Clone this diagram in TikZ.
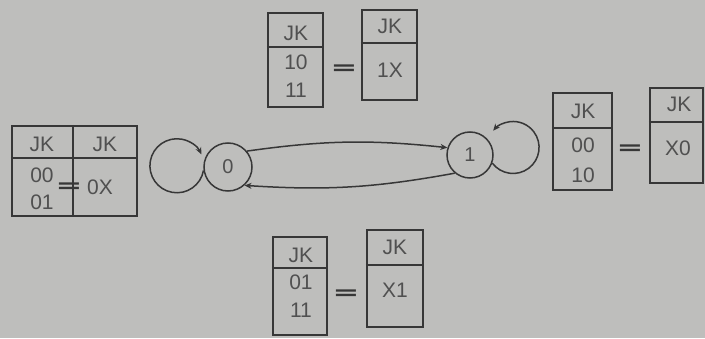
\documentclass[tikz,border=0pt]{standalone}
\usepackage{fontspec}
\setmainfont{Liberation Sans}
\newfontfamily\eqfont{DejaVu Sans}
\usetikzlibrary{arrows.meta}
\definecolor{bg}{RGB}{190,190,188}
\definecolor{ink}{RGB}{55,55,55}
\definecolor{txt}{RGB}{80,80,80}
\tikzset{
  tbox/.style={draw=ink, line width=2.4pt, inner sep=0pt, rectangle},
  hline/.style={draw=ink, line width=1.6pt},
  lbl/.style={text=txt, font=\fontsize{21}{21}\selectfont, inner sep=0pt},
  eq/.style={text=ink, font=\fontsize{20}{20}\eqfont\bfseries, inner sep=0pt},
  state/.style={draw=ink, line width=1.5pt, circle, inner sep=0pt, text=txt, font=\fontsize{20}{20}\selectfont},
  edge/.style={draw=ink, line width=1.5pt, -{Stealth[length=7pt,width=6pt]}}
}
\newcommand{\wideeq}{\scalebox{1.6}[1]{=}}
\begin{document}
\begin{tikzpicture}[x=1pt,y=1pt]
\fill[bg] (0,0) rectangle (705,338);
\useasboundingbox (0,0) rectangle (705,338);

% left table
\node[tbox, minimum width=125pt, minimum height=90pt] (lt) at (74.5,167) {};
\draw[hline] (lt.west |- 0,180) -- (lt.east |- 0,180);
\draw[hline] (73,0 |- lt.north) -- (73,0 |- lt.south);
\node[lbl] (lt1) at (42,194) {JK};
\node[lbl] (lt2) at (105,194) {JK};
\node[lbl] (lt3) at (42,163) {00};
\node[lbl] (lt4) at (42,136) {01};
\node[eq] (lt5) at (69,150) {\wideeq};
\node[lbl] (lt6) at (100,151) {0X};

% top tables
\node[tbox, minimum width=55pt, minimum height=94pt] (ta) at (295.5,278) {};
\draw[hline] (ta.west |- 0,291) -- (ta.east |- 0,291);
\node[lbl] (ta1) at (296,305) {JK};
\node[lbl] (ta2) at (296,276) {10};
\node[lbl] (ta3) at (296,248) {11};
\node[eq] (teq) at (344,268) {\wideeq};
\node[tbox, minimum width=55pt, minimum height=90pt] (tb) at (389.5,283) {};
\draw[hline] (tb.west |- 0,295) -- (tb.east |- 0,295);
\node[lbl] (tb1) at (390,312) {JK};
\node[lbl] (tb2) at (390,268) {1X};

% bottom tables
\node[tbox, minimum width=54pt, minimum height=98pt] (ba) at (300,52) {};
\draw[hline] (ba.west |- 0,70) -- (ba.east |- 0,70);
\node[lbl] (ba1) at (301,83) {JK};
\node[lbl] (ba2) at (301,56) {01};
\node[lbl] (ba3) at (301,28) {11};
\node[eq] (beq) at (346,43) {\wideeq};
\node[tbox, minimum width=56pt, minimum height=97pt] (bb) at (395,59.5) {};
\draw[hline] (bb.west |- 0,73) -- (bb.east |- 0,73);
\node[lbl] (bb1) at (395,91) {JK};
\node[lbl] (bb2) at (395,48) {X1};

% right tables
\node[tbox, minimum width=59pt, minimum height=97pt] (ra) at (582.5,196.5) {};
\draw[hline] (ra.west |- 0,210) -- (ra.east |- 0,210);
\node[lbl] (ra1) at (583,227) {JK};
\node[lbl] (ra2) at (583,193) {00};
\node[lbl] (ra3) at (583,163) {10};
\node[eq] (req) at (630,188) {\wideeq};
\node[tbox, minimum width=53pt, minimum height=95pt] (rb) at (676.5,202.5) {};
\draw[hline] (rb.west |- 0,216) -- (rb.east |- 0,216);
\node[lbl] (rb1) at (679,234) {JK};
\node[lbl] (rb2) at (678,190) {X0};

% states
\node[state, minimum size=48pt] (s0) at (228,171) {0};
\node[state, minimum size=46pt] (s1) at (470,183) {1};

% transitions
\draw[edge] (s0.40) to[bend left=7] (s1.162);
\draw[edge] (s1.230) to[bend left=7] (s0.-48);
\draw[edge] (s0.188) arc[start angle=-10, delta angle=-325, radius=27];
\draw[edge] (s1.-20) arc[start angle=217, delta angle=283, radius=26];
\end{tikzpicture}
\end{document}
